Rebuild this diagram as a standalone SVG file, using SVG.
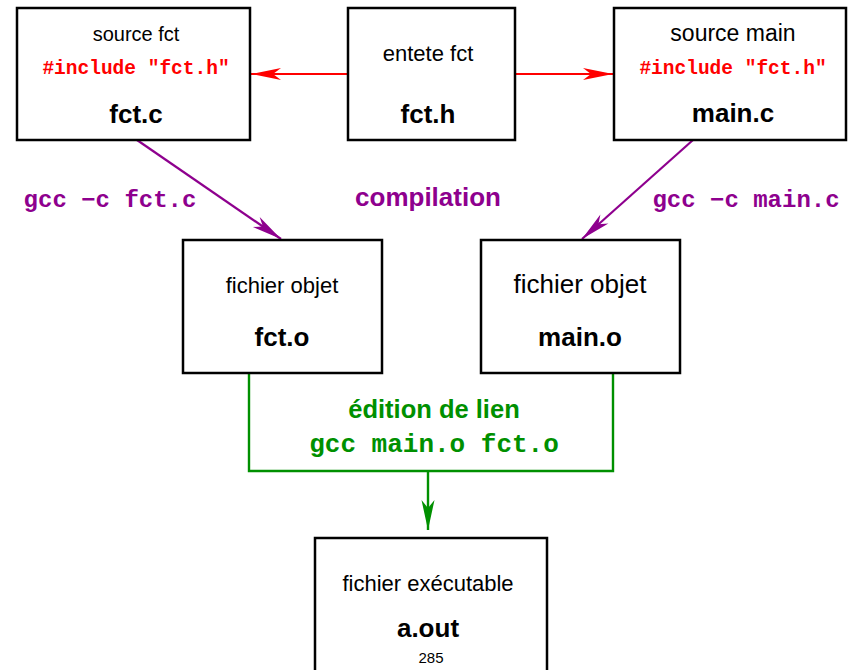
<svg xmlns="http://www.w3.org/2000/svg" width="859" height="670" viewBox="0 0 859 670">
<style>
.box{fill:#fff;stroke:#000;stroke-width:2.5}
.t{font-family:"Liberation Sans",Arial,sans-serif;text-anchor:middle;fill:#000}
.b{font-weight:bold;font-size:26px}
.inc{font-family:"Liberation Mono","Courier New",monospace;font-weight:bold;font-size:19.5px;fill:#ff0000;text-anchor:middle}
.cmd{font-family:"Liberation Mono","Courier New",monospace;font-weight:bold;font-size:24px;fill:#8e008e;text-anchor:middle}
.red{stroke:#ff0000;stroke-width:2.2;fill:none}
.pur{stroke:#8e008e;stroke-width:2.2;fill:none}
.grn{stroke:#009000;stroke-width:2.4;fill:none}
</style>
<defs>
<marker id="ar" markerUnits="userSpaceOnUse" markerWidth="40" markerHeight="20" viewBox="-32 -10 34 20" refX="0" refY="0" orient="auto"><path d="M0,0 L-30,-6 L-22,0 L-30,6 Z" fill="#ff0000"/></marker>
<marker id="ap" markerUnits="userSpaceOnUse" markerWidth="40" markerHeight="20" viewBox="-32 -10 34 20" refX="0" refY="0" orient="auto"><path d="M0,0 L-30,-6 L-22,0 L-30,6 Z" fill="#8e008e"/></marker>
<marker id="ag" markerUnits="userSpaceOnUse" markerWidth="40" markerHeight="20" viewBox="-32 -10 34 20" refX="0" refY="0" orient="auto"><path d="M0,0 L-30,-6.5 L-22,0 L-30,6.5 Z" fill="#009000"/></marker>
</defs>
<g id="connectors">
<line class="red" x1="348" y1="74" x2="251" y2="74" marker-end="url(#ar)"/>
<line class="red" x1="515" y1="74" x2="613" y2="74" marker-end="url(#ar)"/>
<line class="pur" x1="137" y1="140" x2="281" y2="239" marker-end="url(#ap)"/>
<line class="pur" x1="693" y1="140" x2="582" y2="239" marker-end="url(#ap)"/>
<polyline class="grn" points="249,373 249,471 613,471 613,373"/>
<line class="grn" x1="428" y1="471" x2="428" y2="530" marker-end="url(#ag)"/>
<text class="cmd" x="110" y="207">gcc −c fct.c</text>
<text class="cmd" x="746" y="207">gcc −c main.c</text>
<text class="t" x="428" y="206" style="font-weight:bold;font-size:26px;fill:#8e008e">compilation</text>
<text class="t" x="434" y="418" style="font-weight:bold;font-size:25.5px;fill:#009000">édition de lien</text>
<text class="cmd" x="434" y="452" style="fill:#009000;font-size:26px">gcc main.o fct.o</text>
</g>
<g id="fct_c">
<rect class="box" x="17" y="8" width="233" height="132"/>
<text class="t" x="136" y="41" style="font-size:20px">source fct</text>
<text class="inc" x="136" y="74">#include "fct.h"</text>
<text class="t b" x="136" y="123">fct.c</text>
</g>
<g id="fct_h">
<rect class="box" x="348" y="8" width="167" height="132"/>
<text class="t" x="428" y="61" style="font-size:22px">entete fct</text>
<text class="t b" x="428" y="123">fct.h</text>
</g>
<g id="main_c">
<rect class="box" x="614" y="8" width="232" height="132"/>
<text class="t" x="733" y="41" style="font-size:23px">source main</text>
<text class="inc" x="733" y="74">#include "fct.h"</text>
<text class="t b" x="733" y="122">main.c</text>
</g>
<g id="fct_o">
<rect class="box" x="183" y="240" width="199" height="133"/>
<text class="t" x="282" y="293" style="font-size:22px">fichier objet</text>
<text class="t b" x="282" y="346">fct.o</text>
</g>
<g id="main_o">
<rect class="box" x="481" y="240" width="199" height="133"/>
<text class="t" x="580" y="293" style="font-size:26px">fichier objet</text>
<text class="t b" x="580" y="346">main.o</text>
</g>
<g id="a_out">
<rect class="box" x="315" y="538" width="232" height="145"/>
<text class="t" x="428" y="591" style="font-size:22px">fichier exécutable</text>
<text class="t b" x="428" y="637">a.out</text>
<text class="t" x="431" y="663" style="font-size:15px">285</text>
</g>
</svg>
